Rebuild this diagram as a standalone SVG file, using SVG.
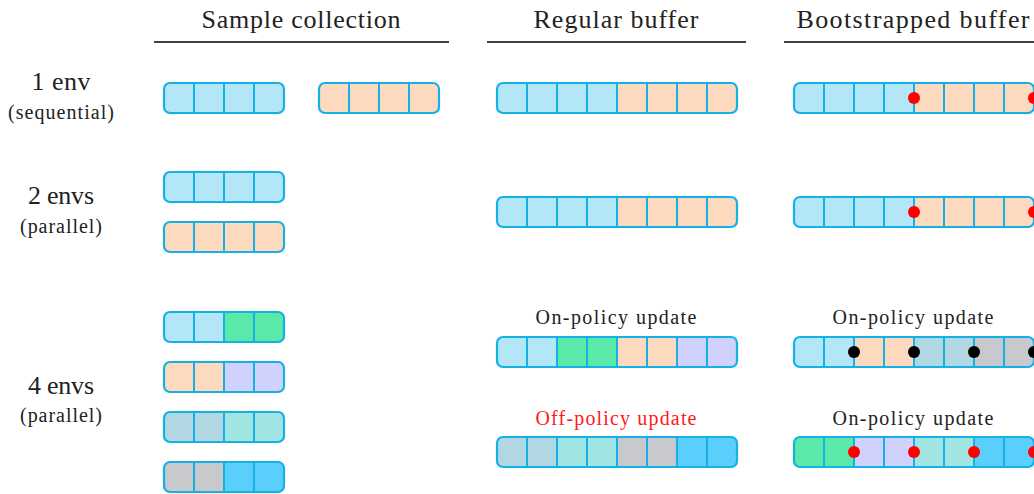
<svg xmlns="http://www.w3.org/2000/svg" width="1034" height="494" viewBox="0 0 1034 494">
<style>
.hd{font-family:"Liberation Serif","DejaVu Serif",serif;font-size:26px;fill:#222;text-anchor:middle}
.lb{font-family:"Liberation Serif","DejaVu Serif",serif;font-size:26px;fill:#222;text-anchor:middle}
.sm{font-family:"Liberation Serif","DejaVu Serif",serif;font-size:20px;fill:#222;text-anchor:middle}
.red{fill:#ff1a1a}
.rule{stroke:#000;stroke-width:1.6}
.outline{fill:none;stroke:#14b1e7;stroke-width:2.2}
.div{stroke:#14b1e7;stroke-width:2}
.c1{fill:#b3e6f6}.c2{fill:#fdd9bf}.c3{fill:#5ae9a8}.c4{fill:#d1d1fd}
.c5{fill:#b1d8e2}.c6{fill:#a1e5e3}.c7{fill:#c8c9cc}.c8{fill:#5bcffc}
.rd{fill:#ff0000}.bk{fill:#000}
</style>
<defs>
<clipPath id="k4"><rect x="0" y="0" width="120" height="30" rx="6"/></clipPath>
<clipPath id="k8"><rect x="0" y="0" width="240" height="30" rx="6"/></clipPath>
</defs>

<g id="headers">
<text class="hd" x="301" y="28" textLength="199">Sample collection</text>
<line class="rule" x1="154" y1="42" x2="449" y2="42"/>
<text class="hd" x="616" y="28" textLength="165">Regular buffer</text>
<line class="rule" x1="487" y1="42" x2="746" y2="42"/>
<text class="hd" x="913" y="28" textLength="233">Bootstrapped buffer</text>
<line class="rule" x1="784" y1="42" x2="1034" y2="42"/>
</g>

<g id="row-labels">
<text class="lb" x="61" y="90" textLength="59">1 env</text>
<text class="sm" x="61" y="119" textLength="106">(sequential)</text>
<text class="lb" x="61" y="204" textLength="66">2 envs</text>
<text class="sm" x="61" y="233" textLength="82">(parallel)</text>
<text class="lb" x="61" y="394" textLength="66">4 envs</text>
<text class="sm" x="61" y="422" textLength="82">(parallel)</text>
</g>

<!-- Row 1 -->
<g id="s1a" transform="translate(164,83)">
<g clip-path="url(#k4)"><rect class="c1" x="0" y="0" width="120" height="30"/></g>
<path class="div" d="M30 0V30M60 0V30M90 0V30"/>
<rect class="outline" x="0" y="0" width="120" height="30" rx="6"/>
</g>
<g id="s1b" transform="translate(319,83)">
<g clip-path="url(#k4)"><rect class="c2" x="0" y="0" width="120" height="30"/></g>
<path class="div" d="M30 0V30M60 0V30M90 0V30"/>
<rect class="outline" x="0" y="0" width="120" height="30" rx="6"/>
</g>
<g id="r1" transform="translate(497,83)">
<g clip-path="url(#k8)"><rect class="c1" x="0" y="0" width="120" height="30"/><rect class="c2" x="120" y="0" width="120" height="30"/></g>
<path class="div" d="M30 0V30M60 0V30M90 0V30M120 0V30M150 0V30M180 0V30M210 0V30"/>
<rect class="outline" x="0" y="0" width="240" height="30" rx="6"/>
</g>
<g id="b1" transform="translate(794,83)">
<g clip-path="url(#k8)"><rect class="c1" x="0" y="0" width="120" height="30"/><rect class="c2" x="120" y="0" width="120" height="30"/></g>
<path class="div" d="M30 0V30M60 0V30M90 0V30M120 0V30M150 0V30M180 0V30M210 0V30"/>
<rect class="outline" x="0" y="0" width="240" height="30" rx="6"/>
<circle class="rd" cx="120" cy="15" r="6"/>
<circle class="rd" cx="240" cy="15" r="6"/>
</g>

<!-- Row 2 -->
<g id="s2a" transform="translate(164,172)">
<g clip-path="url(#k4)"><rect class="c1" x="0" y="0" width="120" height="30"/></g>
<path class="div" d="M30 0V30M60 0V30M90 0V30"/>
<rect class="outline" x="0" y="0" width="120" height="30" rx="6"/>
</g>
<g id="s2b" transform="translate(164,222)">
<g clip-path="url(#k4)"><rect class="c2" x="0" y="0" width="120" height="30"/></g>
<path class="div" d="M30 0V30M60 0V30M90 0V30"/>
<rect class="outline" x="0" y="0" width="120" height="30" rx="6"/>
</g>
<g id="r2" transform="translate(497,197)">
<g clip-path="url(#k8)"><rect class="c1" x="0" y="0" width="120" height="30"/><rect class="c2" x="120" y="0" width="120" height="30"/></g>
<path class="div" d="M30 0V30M60 0V30M90 0V30M120 0V30M150 0V30M180 0V30M210 0V30"/>
<rect class="outline" x="0" y="0" width="240" height="30" rx="6"/>
</g>
<g id="b2" transform="translate(794,197)">
<g clip-path="url(#k8)"><rect class="c1" x="0" y="0" width="120" height="30"/><rect class="c2" x="120" y="0" width="120" height="30"/></g>
<path class="div" d="M30 0V30M60 0V30M90 0V30M120 0V30M150 0V30M180 0V30M210 0V30"/>
<rect class="outline" x="0" y="0" width="240" height="30" rx="6"/>
<circle class="rd" cx="120" cy="15" r="6"/>
<circle class="rd" cx="240" cy="15" r="6"/>
</g>

<!-- Row 3 (4 envs) -->
<g id="s3a" transform="translate(164,312)">
<g clip-path="url(#k4)"><rect class="c1" x="0" y="0" width="60" height="30"/><rect class="c3" x="60" y="0" width="60" height="30"/></g>
<path class="div" d="M30 0V30M60 0V30M90 0V30"/>
<rect class="outline" x="0" y="0" width="120" height="30" rx="6"/>
</g>
<g id="s3b" transform="translate(164,362)">
<g clip-path="url(#k4)"><rect class="c2" x="0" y="0" width="60" height="30"/><rect class="c4" x="60" y="0" width="60" height="30"/></g>
<path class="div" d="M30 0V30M60 0V30M90 0V30"/>
<rect class="outline" x="0" y="0" width="120" height="30" rx="6"/>
</g>
<g id="s3c" transform="translate(164,412)">
<g clip-path="url(#k4)"><rect class="c5" x="0" y="0" width="60" height="30"/><rect class="c6" x="60" y="0" width="60" height="30"/></g>
<path class="div" d="M30 0V30M60 0V30M90 0V30"/>
<rect class="outline" x="0" y="0" width="120" height="30" rx="6"/>
</g>
<g id="s3d" transform="translate(164,462)">
<g clip-path="url(#k4)"><rect class="c7" x="0" y="0" width="60" height="30"/><rect class="c8" x="60" y="0" width="60" height="30"/></g>
<path class="div" d="M30 0V30M60 0V30M90 0V30"/>
<rect class="outline" x="0" y="0" width="120" height="30" rx="6"/>
</g>

<g id="r3a">
<text class="sm" x="616" y="324" textLength="161">On-policy update</text>
<g transform="translate(497,337)">
<g clip-path="url(#k8)"><rect class="c1" x="0" y="0" width="60" height="30"/><rect class="c3" x="60" y="0" width="60" height="30"/><rect class="c2" x="120" y="0" width="60" height="30"/><rect class="c4" x="180" y="0" width="60" height="30"/></g>
<path class="div" d="M30 0V30M60 0V30M90 0V30M120 0V30M150 0V30M180 0V30M210 0V30"/>
<rect class="outline" x="0" y="0" width="240" height="30" rx="6"/>
</g>
</g>
<g id="r3b">
<text class="sm red" x="616" y="425" textLength="161">Off-policy update</text>
<g transform="translate(497,437)">
<g clip-path="url(#k8)"><rect class="c5" x="0" y="0" width="60" height="30"/><rect class="c6" x="60" y="0" width="60" height="30"/><rect class="c7" x="120" y="0" width="60" height="30"/><rect class="c8" x="180" y="0" width="60" height="30"/></g>
<path class="div" d="M30 0V30M60 0V30M90 0V30M120 0V30M150 0V30M180 0V30M210 0V30"/>
<rect class="outline" x="0" y="0" width="240" height="30" rx="6"/>
</g>
</g>
<g id="b3a">
<text class="sm" x="913" y="324" textLength="161">On-policy update</text>
<g transform="translate(794,337)">
<g clip-path="url(#k8)"><rect class="c1" x="0" y="0" width="60" height="30"/><rect class="c2" x="60" y="0" width="60" height="30"/><rect class="c5" x="120" y="0" width="60" height="30"/><rect class="c7" x="180" y="0" width="60" height="30"/></g>
<path class="div" d="M30 0V30M60 0V30M90 0V30M120 0V30M150 0V30M180 0V30M210 0V30"/>
<rect class="outline" x="0" y="0" width="240" height="30" rx="6"/>
<circle class="bk" cx="60" cy="15" r="6"/>
<circle class="bk" cx="120" cy="15" r="6"/>
<circle class="bk" cx="180" cy="15" r="6"/>
<circle class="bk" cx="240" cy="15" r="6"/>
</g>
</g>
<g id="b3b">
<text class="sm" x="913" y="425" textLength="161">On-policy update</text>
<g transform="translate(794,437)">
<g clip-path="url(#k8)"><rect class="c3" x="0" y="0" width="60" height="30"/><rect class="c4" x="60" y="0" width="60" height="30"/><rect class="c6" x="120" y="0" width="60" height="30"/><rect class="c8" x="180" y="0" width="60" height="30"/></g>
<path class="div" d="M30 0V30M60 0V30M90 0V30M120 0V30M150 0V30M180 0V30M210 0V30"/>
<rect class="outline" x="0" y="0" width="240" height="30" rx="6"/>
<circle class="rd" cx="60" cy="15" r="6"/>
<circle class="rd" cx="120" cy="15" r="6"/>
<circle class="rd" cx="180" cy="15" r="6"/>
<circle class="rd" cx="240" cy="15" r="6"/>
</g>
</g>
</svg>
